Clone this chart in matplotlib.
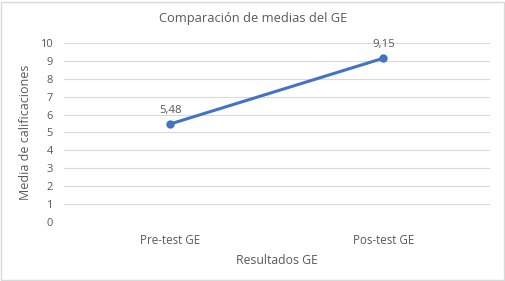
import matplotlib
matplotlib.use('Agg')
import matplotlib.pyplot as plt
from matplotlib.patches import Rectangle

plt.rcParams['font.family'] = ['Open Sans', 'DejaVu Sans']

# data
categories = ['Pre-test GE', 'Pos-test GE']
medias = [5.48, 9.15]
labels = ['5,48', '9,15']

grey = '#595959'

fig = plt.figure(figsize=(5.06, 2.81), dpi=100)
ax = fig.add_axes([0.1265, 0.21, 0.8415, 0.637])

x = list(range(len(categories)))
ax.plot(x, medias, color='#4472C4', lw=2.2, marker='o', ms=5, zorder=3)
for xi, yi, lab in zip(x, medias, labels):
    ax.annotate(lab, (xi, yi), xytext=(0, 6), textcoords='offset points',
                ha='center', va='bottom', fontsize=8.2, color=grey)

ax.set_xlim(-0.5, 1.5)
ax.set_ylim(0, 10)
ax.set_yticks(range(0, 11))
ax.set_xticks(x)
ax.set_xticklabels(categories)
ax.yaxis.grid(True, color='#d9d9d9', lw=0.8)
ax.set_axisbelow(True)
for s in ax.spines.values():
    s.set_visible(False)
ax.tick_params(length=0, labelsize=8, colors=grey, pad=8)
ax.tick_params(axis='x', pad=9, labelsize=8.3)
ax.set_xlabel('Resultados GE', fontsize=8.8, color=grey, labelpad=5)
ax.set_ylabel('Media de calificaciones', fontsize=9, color=grey, labelpad=6)

fig.text(0.5, 0.935, 'Comparación de medias del GE', ha='center', va='center',
         fontsize=9.3, color=grey)

# chart border
fig.patches.append(Rectangle((0.002, 0.004), 0.994, 0.99, transform=fig.transFigure,
                             fill=False, edgecolor='#d9d9d9', lw=1))

plt.savefig('out.png', dpi=100)
